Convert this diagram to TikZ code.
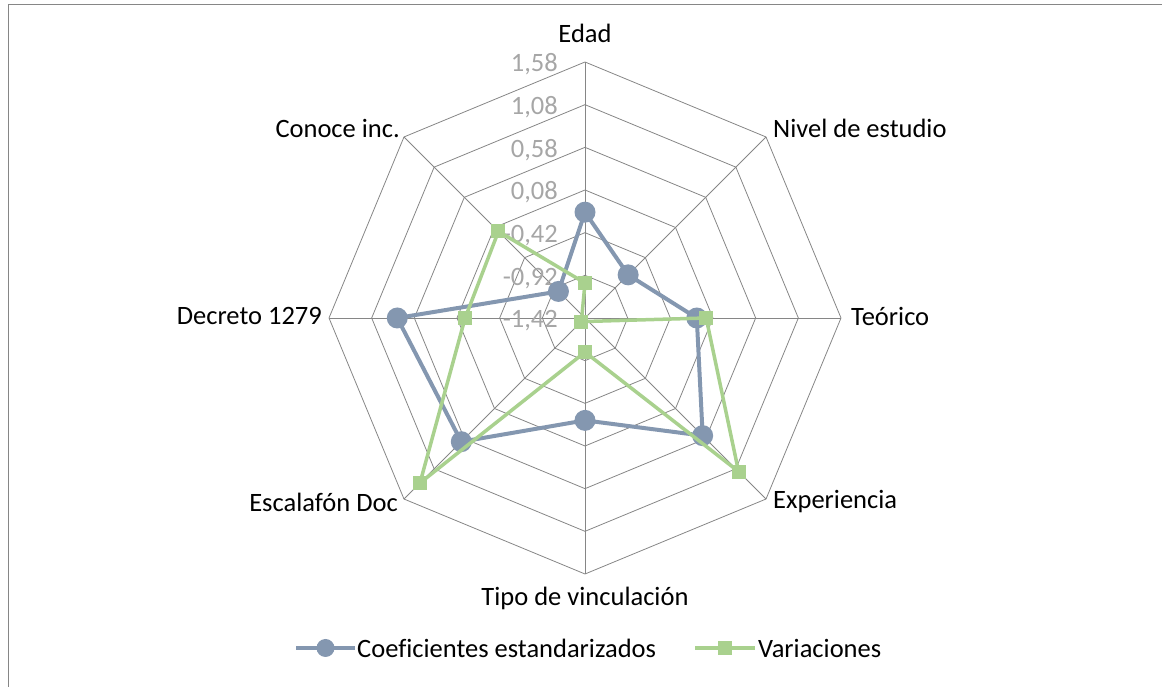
\documentclass[tikz,border=0pt]{standalone}
\usepackage{fontspec}
\setmainfont{Carlito}[Ligatures=NoCommon]
\usetikzlibrary{positioning, calc}
\definecolor{serieblue}{RGB}{132,151,176}
\definecolor{seriegreen}{RGB}{169,209,142}
\definecolor{gridgray}{RGB}{134,134,134}
\definecolor{tickgray}{RGB}{166,166,166}

\begin{document}
\begin{tikzpicture}[x=1pt, y=1pt,
	gridline/.style={draw=gridgray, line width=0.8pt},
	blueline/.style={draw=serieblue, line width=4pt, line join=round},
	greenline/.style={draw=seriegreen, line width=3.5pt, line join=round},
	bluedot/.style={circle, fill=serieblue, minimum size=21pt, inner sep=0pt},
	greensq/.style={rectangle, fill=seriegreen, minimum size=14pt, inner sep=0pt},
	axislabel/.style={inner sep=0pt, font=\fontsize{26.5}{32}\selectfont},
	ticklabel/.style={inner sep=0pt, text=tickgray, font=\fontsize{26.5}{32}\selectfont, anchor=base east}]
			\useasboundingbox (0,0) rectangle (1162,687);
			% Frame
			\draw[gridgray, line width=1pt] (8,0) -- (8,682) -- (1162,682);
			
			\begin{scope}[shift={(585,369)}]
				\def\rs{42.667}
				\coordinate (o) at (0,0);
				% Rings
				\foreach \k in {1,...,6}
					\draw[gridline] (90:\k*\rs) \foreach \a in {45,0,...,-225} { -- (\a:\k*\rs) } -- cycle;
				% Spokes
				\foreach \i in {0,...,7} {
					\coordinate (v\i) at (90-45*\i:6*\rs);
					\draw[gridline] (o) -- (v\i);
				}
				
				% Scale labels
				\foreach \k/\t in {0/{-1,42}, 1/{-0,92}, 2/{-0,42}, 3/{0,08}, 4/{0,58}, 5/{1,08}, 6/{1,58}}
					\node[ticklabel] (t\k) at (-27, \k*\rs-9.7) {\t};
				
				% Coeficientes estandarizados
				\foreach \v [count=\i from 0] in {2.48,1.43,2.62,3.9,2.4,4.1,4.4,0.88}
					\coordinate (b\i) at (90-45*\i:\v*\rs);
				\draw[blueline] (b0) -- (b1) -- (b2) -- (b3) -- (b4) -- (b5) -- (b6) -- (b7) -- cycle;
				\foreach \i in {0,...,7}
					\node[bluedot] (bm\i) at (b\i) {};
				
				% Variaciones
				\foreach \v [count=\i from 0] in {0.82,-0.12,2.84,5.09,0.8,5.47,2.81,2.87}
					\coordinate (g\i) at (90-45*\i:\v*\rs);
				\draw[greenline] (g0) -- (g1) -- (g2) -- (g3) -- (g4) -- (g5) -- (g6) -- (g7) -- cycle;
				\foreach \i in {0,...,7}
					\node[greensq] (gm\i) at (g\i) {};
				
				% Axis names
				\node[axislabel] (edad) at (0,285) {Edad};
				\node[axislabel, anchor=west] (nivel) at (188,190) {Nivel de estudio};
				\node[axislabel, anchor=west] (teorico) at (266,2) {Teórico};
				\node[axislabel, anchor=west] (experiencia) at (188,-184) {Experiencia};
				\node[axislabel] (tipo) at (0,-280) {Tipo de vinculación};
				\node[axislabel, anchor=east] (escalafon) at (-187,-184) {Escalafón Doc};
				\node[axislabel, anchor=east] (decreto) at (-263,2) {Decreto 1279};
				\node[axislabel, anchor=east] (conoce) at (-185,190) {Conoce inc.};
			\end{scope}
			
			% Legend
			\coordinate (la) at (296,39);
			\coordinate (lb) at (355,39);
			\draw[blueline] (la) -- (lb);
			\node[bluedot, minimum size=18pt] (lbm) at ($(la)!0.5!(lb)$) {};
			\node[axislabel, anchor=west] (coef) at (357,39) {Coeficientes estandarizados};
			\coordinate (lc) at (695,39);
			\coordinate (ld) at (755,39);
			\draw[greenline] (lc) -- (ld);
			\node[greensq] (lgm) at ($(lc)!0.5!(ld)$) {};
			\node[axislabel, anchor=west] (vari) at (758,39) {Variaciones};
		\end{tikzpicture}
\end{document}
